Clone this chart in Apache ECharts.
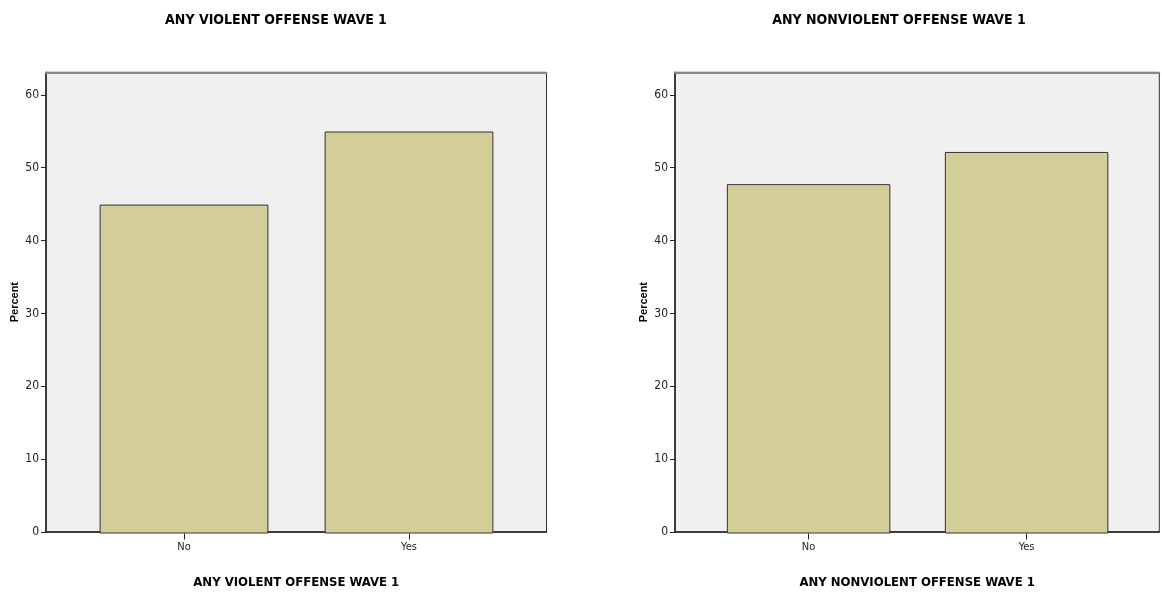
<!DOCTYPE html>
<html>
<head>
<meta charset="utf-8">
<script src="https://cdn.jsdelivr.net/npm/echarts@6/dist/echarts.min.js"></script>
<style>html,body{margin:0;padding:0;background:#fff;}#c{width:1162px;height:594px;}</style>
</head>
<body>
<div id="c"></div>
<script>
const categories = ['No', 'Yes'];
const violentValues = [45.0, 55.0];
const nonviolentValues = [47.8, 52.2];
const chartTitles = ['ANY VIOLENT OFFENSE WAVE 1', 'ANY NONVIOLENT OFFENSE WAVE 1'];
const yTicks = [0, 10, 20, 30, 40, 50, 60];
const yMax = 63.1;

const NARROW = "'Liberation Sans Narrow', 'DejaVu Sans Condensed', 'Liberation Sans', sans-serif";
const chart = echarts.init(document.getElementById('c'));

const panels = [
  {outerL: 46, outerR: 546.5, innerL: 71.5, innerW: 450, titleX: 271, data: violentValues, title: chartTitles[0]},
  {outerL: 675, outerR: 1159.3, innerL: 699.6, innerW: 436, titleX: 894, data: nonviolentValues, title: chartTitles[1]}
];
const TOP = 72.3, BOTTOM = 594 - 533.5;

const grid = [], xAxis = [], yAxis = [], series = [], title = [];
panels.forEach((p, i) => {
  grid.push({left: p.outerL, width: p.outerR - p.outerL, top: TOP, bottom: BOTTOM,
    show: true, backgroundColor: '#f0f0f0', borderColor: '#333', borderWidth: 1});
  grid.push({left: p.innerL, width: p.innerW, top: TOP, bottom: BOTTOM});
  xAxis.push({gridIndex: 2*i, type: 'value', min: 0, max: 1,
    axisLine: {show: true, onZero: false, lineStyle: {color: '#222', width: 1.5}},
    axisTick: {show: false}, axisLabel: {show: false}, splitLine: {show: false},
    name: p.title, nameLocation: 'middle', nameGap: 44,
    nameTextStyle: {fontFamily: NARROW, fontSize: 13, fontWeight: 'bold', color: '#000'}});
  xAxis.push({gridIndex: 2*i+1, type: 'category', data: categories,
    axisLine: {show: false},
    axisTick: {show: true, alignWithLabel: true, length: 6, lineStyle: {color: '#222'}},
    axisLabel: {fontFamily: NARROW, fontSize: 11, color: '#222', margin: 8}});
  yAxis.push({gridIndex: 2*i, type: 'value', min: 0, max: yMax,
    axisLine: {show: true, lineStyle: {color: '#222', width: 1.5}},
    axisTick: {show: true, length: 5, lineStyle: {color: '#222'}, customValues: yTicks},
    axisLabel: {fontFamily: NARROW, fontSize: 12, color: '#222', margin: 7, customValues: yTicks},
    splitLine: {show: false},
    name: 'Percent', nameLocation: 'middle', nameRotate: 90, nameGap: 26,
    nameTextStyle: {fontFamily: "'Liberation Sans', sans-serif", fontSize: 11, fontWeight: 'bold', color: '#000'}});
  yAxis.push({gridIndex: 2*i+1, type: 'value', min: 0, max: yMax, show: false});
  series.push({type: 'bar', xAxisIndex: 2*i+1, yAxisIndex: 2*i+1, data: p.data,
    barCategoryGap: '25%', silent: true,
    itemStyle: {color: '#d3ce97', borderColor: '#333', borderWidth: 1}});
  title.push({text: p.title, left: p.titleX, top: 8, textAlign: 'center',
    textStyle: {fontFamily: NARROW, fontSize: 14, fontWeight: 'bold', color: '#000'}});
});
// gray top border of each plot area
panels.forEach((p, i) => {
  xAxis.push({gridIndex: 2*i, type: 'value', min: 0, max: 1, position: 'top',
    axisLine: {show: true, onZero: false, lineStyle: {color: '#888', width: 2}},
    axisTick: {show: false}, axisLabel: {show: false}, splitLine: {show: false}});
});

chart.setOption({animation: false, title, grid, xAxis, yAxis, series});
</script>
</body>
</html>
